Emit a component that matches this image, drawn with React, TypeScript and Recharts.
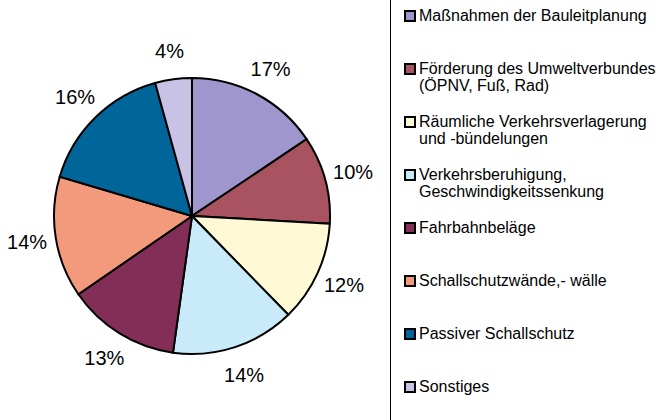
import { PieChart, Pie, Cell, Legend } from 'recharts';

const categories = [
  'Maßnahmen der Bauleitplanung',
  'Förderung des Umweltverbundes\n(ÖPNV, Fuß, Rad)',
  'Räumliche Verkehrsverlagerung\nund -bündelungen',
  'Verkehrsberuhigung,\nGeschwindigkeitssenkung',
  'Fahrbahnbeläge',
  'Schallschutzwände,- wälle',
  'Passiver Schallschutz',
  'Sonstiges',
];

const shares = [15.6, 10.3, 11.8, 14.5, 13.2, 14.2, 16.1, 4.3];

// percentages printed next to the wedges
const shareLabels = ['17%', '10%', '12%', '14%', '13%', '14%', '16%', '4%'];

const colors = ['#9E96CC', '#A8535F', '#FFF9D6', '#C9EAF8', '#822E57', '#F49A7C', '#006699', '#C8C3E4'];

const data = categories.map((name, i) => ({ name, value: shares[i], label: shareLabels[i] }));

const RADIAN = Math.PI / 180;
const FONT = '"Liberation Sans", Arial, sans-serif';

function renderLabel({ cx, cy, midAngle, outerRadius, payload }: any) {
  const r = outerRadius + 29;
  const x = cx + r * Math.cos(-midAngle * RADIAN);
  const y = cy + r * Math.sin(-midAngle * RADIAN);
  return (
    <text x={x} y={y} fill="#000" fontSize={20} fontFamily={FONT} textAnchor="middle" dominantBaseline="central">
      {payload.label}
    </text>
  );
}

function LegendBox() {
  return (
    <div style={{
      borderLeft: '1px solid #000',
      height: 420,
      boxSizing: 'border-box',
      paddingLeft: 13,
      paddingTop: 7,
      fontFamily: FONT,
      fontSize: 16,
      lineHeight: '17px',
      color: '#000',
    }}>
      {categories.map((name, i) => (
        <div key={i} style={{ display: 'flex', alignItems: 'flex-start', height: 53 }}>
          <span style={{
            width: 8, height: 8, border: '2px solid #000', background: colors[i],
            marginTop: 3, marginRight: 3, flexShrink: 0,
          }} />
          <span style={{ whiteSpace: 'pre-line', textAlign: 'left' }}>{name}</span>
        </div>
      ))}
    </div>
  );
}

export default function App() {
  return (
    <div style={{ position: 'absolute', left: 0, top: 0, width: 659, height: 420, background: '#fff' }}>
      <PieChart width={659} height={420} margin={{ top: 0, right: 0, bottom: 0, left: 0 }}>
        <Pie
          data={data}
          dataKey="value"
          nameKey="name"
          cx={192}
          cy={216}
          outerRadius={138}
          startAngle={90}
          endAngle={-270}
          stroke="#000"
          strokeWidth={2}
          label={renderLabel}
          labelLine={false}
          isAnimationActive={false}
        >
          {data.map((_, i) => (
            <Cell key={i} fill={colors[i]} />
          ))}
        </Pie>
        <Legend
          layout="vertical"
          align="right"
          verticalAlign="top"
          content={<LegendBox />}
          wrapperStyle={{ left: 390, top: 0, width: 269, height: 420 }}
        />
      </PieChart>
    </div>
  );
}
